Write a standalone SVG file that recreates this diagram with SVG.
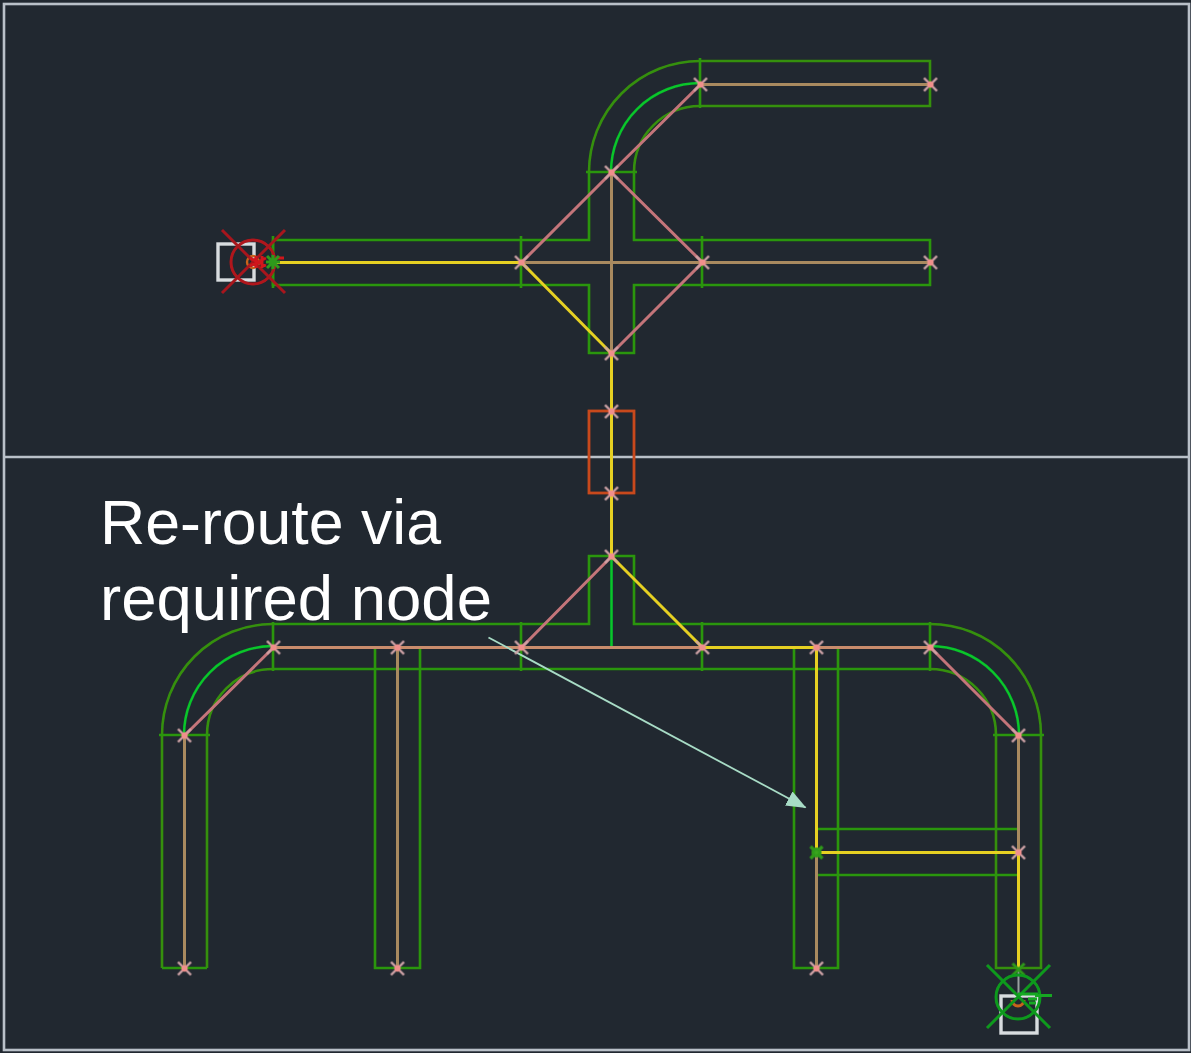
<svg xmlns="http://www.w3.org/2000/svg" width="1191" height="1053" viewBox="0 0 1191 1053">
<defs>
<style>
.d{fill:none;stroke:#2a960a;stroke-width:2.6}
.o{fill:none;stroke:#35900c;stroke-width:2.6}
.b{fill:none;stroke:#07c42a;stroke-width:2.6}
.t{stroke:#a98a5e;stroke-width:3;fill:none}
.p{stroke:#c4757a;stroke-width:3;fill:none}
.h{stroke:#c98c6c;stroke-width:3;fill:none}
.y{stroke:#e6d024;stroke-width:3;fill:none}
.n line{stroke:#d0a4a8;stroke-width:2.4}
.n circle{fill:#f08f8c}
.lab{font-family:"Liberation Sans",Arial,sans-serif;font-size:63.5px;fill:#ffffff}
</style>
<filter id="soft" x="-5%" y="-5%" width="110%" height="110%"><feGaussianBlur stdDeviation="0.45"/></filter>
<g id="x" class="n"><line x1="-6.5" y1="-6.5" x2="6.5" y2="6.5"/><line x1="6.5" y1="-6.5" x2="-6.5" y2="6.5"/><circle r="3.2"/></g>
<marker id="ah" viewBox="0 0 20 16" refX="19" refY="8" markerWidth="20" markerHeight="16" markerUnits="userSpaceOnUse" orient="auto"><path d="M0,0L20,8L0,16Z" fill="#a8dcc6"/></marker>
</defs>
<rect width="1191" height="1053" fill="#212830"/>
<g id="frame" fill="none" stroke="#b9c0c8" stroke-width="2.6" filter="url(#soft)"><rect x="4" y="4" width="1185" height="1046"/><line x1="4" y1="457" x2="1189" y2="457"/></g>

<g id="ducts" filter="url(#soft)">
<path class="d" d="M273,240H589V172M634,172V240H930V285H634V353H589V285H273V240"/>
<path class="d" d="M521,236V288M702,236V288M586,172H637M273,236V288"/>
<path class="o" d="M589,172A111,111 0 0 1 700,61H930V106H700A66,66 0 0 0 634,172"/>
<path class="b" d="M611,172A89,89 0 0 1 700,83"/>
<path class="d" d="M700,58V108"/>
<rect id="damper" x="589" y="411" width="45" height="82" fill="none" stroke="#c8481c" stroke-width="2.8"/>

<path class="d" d="M273,624H589V556H634V624H930M273,669H930"/>
<path class="b" d="M611.5,556V647"/>
<path class="d" d="M521,622V671M702,622V671M273,622V671M930,622V671"/>
<path class="o" d="M162,968V735A111,111 0 0 1 273,624M207,968V735A66,66 0 0 1 273,669"/>
<path class="d" d="M162,968H207M159,735H210"/>
<path class="b" d="M184,735A89,89 0 0 1 273,646"/>
<path class="o" d="M930,624A111,111 0 0 1 1041,735V968H996V735A66,66 0 0 0 930,669"/>
<path class="b" d="M930,646A89,89 0 0 1 1019,735"/>
<path class="d" d="M993,735H1044"/>
<path class="d" d="M375,647V968H420V647M794,647V968H838V647M816,829H1018M816,875H1018"/>
</g>

<g id="connectors" filter="url(#soft)" transform="translate(.5,.5)">
<path class="t" d="M184,735V968M397,647V968M816,852V968M1018,735V852M611,172V353M521,262H930M700,84H930"/>
<path class="h" d="M273,647H702M816,647H930"/>
<path class="p" d="M700,84L611,172L521,262M611,172L702,262L611,353M611,556L521,647M184,735L273,647M930,647L1018,735"/>
<path class="y" d="M273,262H521L611,353V556L702,647H816V852H1018V968"/>
<line x1="1018" y1="968" x2="1018" y2="997" stroke="#9aa0a0" stroke-width="2"/>
<line x1="488" y1="637" x2="805" y2="807" stroke="#a8dcc6" stroke-width="1.8" marker-end="url(#ah)"/>
</g>

<g id="nodes" filter="url(#soft)" transform="translate(.5,.5)">
<use href="#x" x="700" y="84"/><use href="#x" x="930" y="84"/><use href="#x" x="611" y="172"/>
<use href="#x" x="521" y="262"/><use href="#x" x="702" y="262"/><use href="#x" x="930" y="262"/>
<use href="#x" x="611" y="353"/><use href="#x" x="611" y="411"/><use href="#x" x="611" y="493"/>
<use href="#x" x="611" y="556"/><use href="#x" x="521" y="647"/><use href="#x" x="702" y="647"/>
<use href="#x" x="816" y="647"/><use href="#x" x="930" y="647"/><use href="#x" x="273" y="647"/>
<use href="#x" x="397" y="647"/><use href="#x" x="184" y="735"/><use href="#x" x="1018" y="735"/>
<use href="#x" x="184" y="968"/><use href="#x" x="397" y="968"/><use href="#x" x="816" y="968"/>
<use href="#x" x="1018" y="852"/>
<g id="green-node-1" stroke="#2f9a1a" stroke-width="3.2"><path d="M810,846L822,858M822,846L810,858"/><circle cx="816" cy="852" r="3.5" fill="#3aa51c"/></g>
<g id="green-node-2" stroke="#2f9a1a" stroke-width="3"><path d="M1012,963L1024,975M1024,963L1012,975"/></g>
</g>

<g id="start" filter="url(#soft)">
<rect x="218" y="244" width="36" height="36" fill="none" stroke="#d8dcdf" stroke-width="3.4"/>
<circle cx="253" cy="262" r="22" fill="none" stroke="#b0161c" stroke-width="3"/>
<circle cx="253" cy="262" r="6" fill="none" stroke="#c8641c" stroke-width="2.4"/>
<path d="M222,230L285,293M285,230L222,293" stroke="#a8181e" stroke-width="3"/>
<path d="M250,258L266,266M250,266L266,258M256,256V268M262,256V268M276,258H284" stroke="#d0141c" stroke-width="3"/>
<path d="M267,256L279,268M279,256L267,268M273,255V269M266,262H280" stroke="#2f9a1a" stroke-width="3"/>
</g>

<g id="end" filter="url(#soft)">
<rect x="1001" y="996" width="36" height="37" fill="none" stroke="#d8dcdf" stroke-width="3.4"/>
<circle cx="1018" cy="997" r="22" fill="none" stroke="#0f9a1e" stroke-width="3"/>
<path d="M1012,1000A6,6 0 0 0 1024,1000" fill="none" stroke="#c8641c" stroke-width="3"/>
<path d="M987,965L1050,1028M1050,965L987,1028" stroke="#0f9a1e" stroke-width="3"/>
<path d="M1018,994H1038M1035,995.5H1052M1028,999H1037M1029,1003H1036" stroke="#12a822" stroke-width="3"/>
</g>

<g id="label">
<text class="lab" x="100" y="544" textLength="341" lengthAdjust="spacingAndGlyphs">Re-route via</text>
<text class="lab" x="100" y="620" textLength="392" lengthAdjust="spacingAndGlyphs">required node</text>
</g>
</svg>
